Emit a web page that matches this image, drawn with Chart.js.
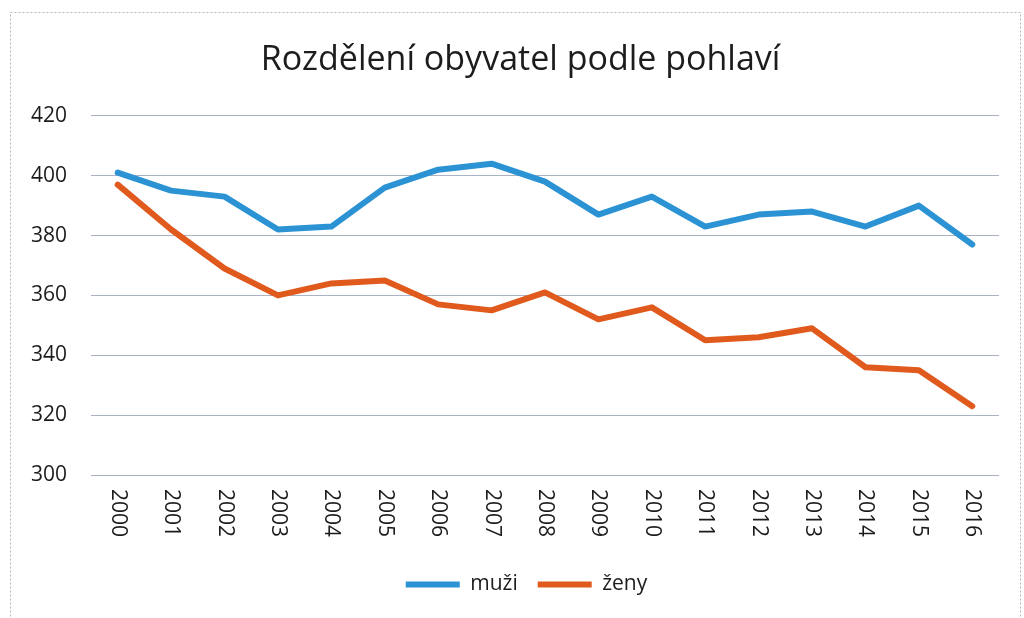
<!DOCTYPE html>
<html>
<head>
<meta charset="utf-8">
<script src="https://cdn.jsdelivr.net/npm/chart.js@4"></script>
<style>
  html, body { margin: 0; padding: 0; background: #fff; }
  #wrap { width: 1024px; height: 618px; }
</style>
</head>
<body>
<div id="wrap"><canvas id="line-chart" width="1024" height="618"></canvas></div>
<script>
const years = ["2000", "2001", "2002", "2003", "2004", "2005", "2006", "2007", "2008", "2009", "2010", "2011", "2012", "2013", "2014", "2015", "2016"];
const muzi = [401, 395, 393, 382, 383, 396, 402, 404, 398, 387, 393, 383, 387, 388, 383, 390, 377];
const zeny = [397, 382, 369, 360, 364, 365, 357, 355, 361, 352, 356, 345, 346, 349, 336, 335, 323];
const yTicks = [300, 320, 340, 360, 380, 400, 420];

const textColor = '#1c1c1c';

// Excel draws the year labels turned clockwise, Chart.js only turns them the other way
const yearLabels = {
    id: 'yearLabels',
    afterDraw(chart) {
        const x = chart.scales.x;
        const ctx = chart.ctx;
        ctx.save();
        ctx.fillStyle = textColor;
        ctx.font = '21px "Open Sans"';
        ctx.textAlign = 'left';
        ctx.textBaseline = 'middle';
        years.forEach((y, i) => {
            ctx.save();
            ctx.translate(x.getPixelForTick(i), x.top + 14);
            ctx.rotate(Math.PI / 2);
            ctx.fillText(y, 0, 0);
            ctx.restore();
        });
        ctx.restore();
    }
};

// title and legend sit a bit right of the plot centre in the original
const nudge = {
    id: 'nudge',
    afterLayout(chart) {
        chart.titleBlock.left += 16;
        chart.titleBlock.right += 16;
        chart.legend.left += 22;
        chart.legend.right += 22;
    }
};

const frame = {
    id: 'frame',
    beforeDraw(chart) {
        const ctx = chart.ctx;
        ctx.save();
        ctx.strokeStyle = '#b5b5b5';
        ctx.lineWidth = 1;
        ctx.setLineDash([2, 2]);
        ctx.strokeRect(10.5, 12.5, 1010, 640);
        ctx.restore();
    }
};

const ctx = document.getElementById('line-chart');
new Chart(ctx, {
    type: 'line',
    data: {
        labels: years,
        datasets: [{
            label: 'muži',
            data: muzi,
            borderColor: '#2b93d4',
            backgroundColor: '#2b93d4',
            borderWidth: 6,
            pointRadius: 0,
            borderCapStyle: 'round',
            borderJoinStyle: 'round',
            tension: 0
        }, {
            label: 'ženy',
            data: zeny,
            borderColor: '#e05a1e',
            backgroundColor: '#e05a1e',
            borderWidth: 6,
            pointRadius: 0,
            borderCapStyle: 'round',
            borderJoinStyle: 'round',
            tension: 0
        }]
    },
    options: {
        responsive: false,
        animation: false,
        layout: { padding: { left: 10, top: 12, right: 25, bottom: 13 } },
        plugins: {
            title: {
                display: true,
                text: 'Rozdělení obyvatel podle pohlaví',
                color: textColor,
                font: { family: '"Open Sans"', size: 34, weight: 'normal' },
                padding: { top: 28, bottom: 35 }
            },
            legend: {
                position: 'bottom',
                labels: {
                    usePointStyle: true,
                    pointStyle: 'line',
                    pointStyleWidth: 54,
                    padding: 20,
                    color: textColor,
                    font: { family: '"Open Sans"', size: 21 }
                }
            },
            tooltip: { enabled: false }
        },
        scales: {
            x: {
                offset: true,
                grid: { display: false },
                border: { display: false },
                ticks: { display: false },
                afterFit(s) { s.height = 79; }
            },
            y: {
                min: 300,
                max: 420,
                afterBuildTicks(s) { s.ticks = yTicks.map(v => ({ value: v })); },
                grid: { color: '#aab2c4', lineWidth: 1, drawTicks: false },
                border: { display: false },
                ticks: {
                    padding: 24,
                    color: textColor,
                    font: { family: '"Open Sans"', size: 21 }
                },
                afterFit(s) { s.width = 81; }
            }
        }
    },
    plugins: [frame, nudge, yearLabels]
});
</script>
</body>
</html>
